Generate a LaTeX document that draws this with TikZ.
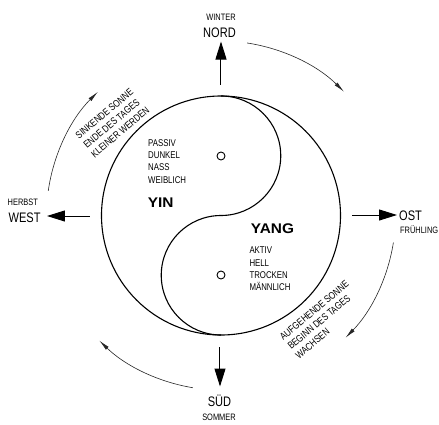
\documentclass[tikz,border=0pt]{standalone}
\usepackage{fontspec}
\setmainfont{Liberation Sans}[FakeStretch=0.8]
\newfontfamily\yyfont{Liberation Sans}[FakeStretch=1.1]
\usetikzlibrary{arrows.meta}
\begin{document}
\begin{tikzpicture}[x=1pt,y=1pt,
  lbl/.style={inner sep=0pt, font=\fontsize{9.3}{10}\selectfont},
  big/.style={inner sep=0pt, font=\fontsize{13.8}{16}\selectfont},
  attr/.style={inner sep=0pt, align=left, anchor=north west, font=\fontsize{9.8}{12.2}\selectfont},
  rot/.style={inner sep=0pt, align=left, rotate=40, anchor=north west, font=\fontsize{10}{12.2}\selectfont},
  yy/.style={inner sep=0pt, anchor=base west, font=\yyfont\bfseries\fontsize{14}{16}\selectfont},
  compass/.style={line width=1pt, -{Triangle[length=18pt,width=11pt]}},
  turnarrow/.style={line width=0.6pt, black!85, -{Latex[length=11pt,width=4pt]}},
  dot/.style={circle, draw, line width=0.9pt, minimum size=8pt, inner sep=0pt},
]
\useasboundingbox (-221,-208.5) rectangle (218,215.5);

% Taiji circle and S-curve
\node[circle, draw, line width=1.1pt, minimum size=239pt, inner sep=0pt, outer sep=0pt] (taiji) at (0,0) {};
\draw[line width=1.1pt] (taiji.north) arc[start angle=90, end angle=-90, radius=59.75]
  arc[start angle=90, end angle=270, radius=59.75];
\node[dot] (yindot) at (0,59.5) {};
\node[dot] (yangdot) at (0,-59.5) {};

% compass arrows
\coordinate (nA) at (0,131);   \coordinate (nB) at (0,174);
\coordinate (wA) at (-131,-0.5); \coordinate (wB) at (-174,-0.5);
\coordinate (eA) at (131,0.5);  \coordinate (eB) at (176,0.5);
\coordinate (sA) at (-1,-131.5); \coordinate (sB) at (-1,-171);
\draw[compass] (nA) -- (nB);
\draw[compass] (wA) -- (wB);
\draw[compass] (eA) -- (eB);
\draw[compass] (sA) -- (sB);

% compass labels
\node[big, anchor=base] (nord) at (-1.5,178) {NORD};
\node[lbl, anchor=base] (winter) at (0,195.5) {WINTER};
\node[big, anchor=base west] (west) at (-212.5,-7.2) {WEST};
\node[lbl, anchor=base west] (herbst) at (-213.5,10.5) {HERBST};
\node[big, anchor=base west] (ost) at (178,-4.5) {OST};
\node[lbl, anchor=base west] (fruehling) at (179,-17.8) {FRÜHLING};
\node[big, anchor=base] (sued) at (-1.5,-190.5) {SÜD};
\node[lbl, anchor=base] (sommer) at (-2,-204.5) {SOMMER};

% inner texts
\node[attr] (yinattr) at (-73,76) {PASSIV\\DUNKEL\\NASS\\WEIBLICH};
\node[yy] (yin) at (-73.3,8.2) {YIN};
\node[yy] (yang) at (29.7,-17.8) {YANG};
\node[attr] (yangattr) at (28.3,-31.5) {AKTIV\\HELL\\TROCKEN\\MÄNNLICH};

% rotated texts
\node[rot] (dusk) at (-146.6,81.5) {SINKENDE SONNE\\ENDE DES TAGES\\KLEINER WERDEN};
\node[rot] (dawn) at (57.7,-119.7) {AUFGEHENDE SONNE\\BEGINN DES TAGES\\WACHSEN};

% cycle arcs
\draw[turnarrow] (81.4:174.5) arc[start angle=81.4, end angle=45.2, radius=174.5];
\draw[turnarrow] (-8.9:174.5) arc[start angle=-8.9, end angle=-44.5, radius=174.5];
\draw[turnarrow] (-99.3:174.5) arc[start angle=-99.3, end angle=-134.2, radius=174.5];
\draw[turnarrow] (171.9:174.5) arc[start angle=171.9, end angle=134.9, radius=174.5];
\end{tikzpicture}
\end{document}
